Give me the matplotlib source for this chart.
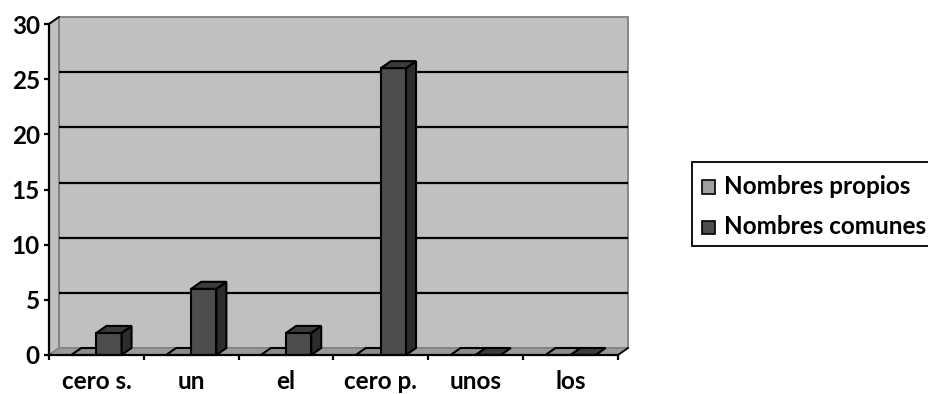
import matplotlib
matplotlib.use("Agg")
import matplotlib.pyplot as plt
from matplotlib.patches import Polygon, Rectangle

# --- data ---
categories = ["cero s.", "un", "el", "cero p.", "unos", "los"]
series_names = ["Nombres propios", "Nombres comunes"]
propios = [0, 0, 0, 0, 0, 0]
comunes = [2, 6, 2, 26, 0, 0]
y_ticks = [0, 5, 10, 15, 20, 25, 30]

# --- styling ---
FONT = ["Lato", "DejaVu Sans"]
FS = 17.5
wall_color = "#C0C0C0"
wall_edge = "#808080"
floor_color = "#9A9A9A"
series_colors = [
    {"face": "#A0A0A0", "side": "#7A7A7A", "top": "#8C8C8C"},
    {"face": "#4D4D4D", "side": "#2C2C2C", "top": "#3B3B3B"},
]
txt = dict(fontsize=FS, fontweight="bold", family=FONT)

W, H, DPI = 929, 394, 100
fig = plt.figure(figsize=(W / DPI, H / DPI), dpi=DPI)
fig.patch.set_facecolor("white")

# plot area in pixels (front plane)
left_px, right_px, bottom_px, top_px = 49, 618, 355, 24
ax = fig.add_axes([left_px / W, (H - bottom_px) / H,
                   (right_px - left_px) / W, (bottom_px - top_px) / H])
n = len(categories)
ymax = y_ticks[-1]
ax.set_xlim(0, n)
ax.set_ylim(0, ymax)
ax.set_facecolor("none")

# depth offset of the 3D effect, converted from pixels to data units
px_x = (right_px - left_px) / n
px_y = (bottom_px - top_px) / ymax
dx = 10 / px_x
dy = 7 / px_y

def poly(pts, fc, ec="black", lw=1.5, z=1):
    p = Polygon(pts, closed=True, facecolor=fc, edgecolor=ec, linewidth=lw,
                clip_on=False, zorder=z, joinstyle="miter")
    ax.add_patch(p)

# back wall, side wall, floor
poly([(dx, dy), (n + dx, dy), (n + dx, ymax + dy), (dx, ymax + dy)],
     wall_color, ec=wall_edge, lw=1.3, z=0.5)
poly([(0, 0), (dx, dy), (dx, ymax + dy), (0, ymax)],
     wall_color, ec=wall_edge, lw=1.3, z=0.6)
poly([(0, 0), (n, 0), (n + dx, dy), (dx, dy)],
     floor_color, ec=wall_edge, lw=1.0, z=0.7)

# gridlines on the back wall
for t in y_ticks[1:-1]:
    ax.plot([dx, n + dx], [t + dy, t + dy], color="black", lw=1.6,
            zorder=0.8, clip_on=False, solid_capstyle="butt")

# edges joining the front axes to the walls
ax.plot([0, dx], [ymax, ymax + dy], color="black", lw=1.3, clip_on=False, zorder=0.9)
ax.plot([n, n + dx], [0, dy], color="black", lw=1.3, clip_on=False, zorder=0.9)

# 3D bars
bar_w = 0.265
values = [propios, comunes]
for i in range(n):
    for s, vals in enumerate(values):
        v = vals[i]
        x0 = i + 0.5 - bar_w + s * bar_w
        x1 = x0 + bar_w
        c = series_colors[s]
        z = 2 + i * 0.1 + s * 0.01
        if v > 0:
            poly([(x0, 0), (x1, 0), (x1, v), (x0, v)], c["face"], z=z)
            poly([(x1, 0), (x1 + dx, dy), (x1 + dx, v + dy), (x1, v)], c["side"], z=z)
        poly([(x0, v), (x1, v), (x1 + dx, v + dy), (x0 + dx, v + dy)], c["top"], z=z)

# axes
for side in ("top", "right"):
    ax.spines[side].set_visible(False)
for side in ("left", "bottom"):
    ax.spines[side].set_linewidth(1.6)
    ax.spines[side].set_zorder(5)

ax.set_yticks(y_ticks)
ax.set_yticklabels([str(t) for t in y_ticks], **txt)
ax.set_xticks(range(n + 1))
ax.set_xticklabels([])
ax.set_xticks([i + 0.5 for i in range(n)], minor=True)
ax.set_xticklabels(categories, minor=True, **txt)
ax.tick_params(axis="y", direction="out", length=3.6, width=1.6, pad=3)
ax.tick_params(axis="x", which="major", direction="out", length=3.6, width=1.6)
ax.tick_params(axis="x", which="minor", length=0, pad=10.5)

# legend box
lx0, ly0, lx1, ly1 = 692, 162, 940, 246
fig.patches.append(Rectangle((lx0 / W, (H - ly1) / H), (lx1 - lx0) / W,
                             (ly1 - ly0) / H, transform=fig.transFigure,
                             facecolor="white", edgecolor="black", lw=1.3))
for k, (name, yc) in enumerate(zip(series_names, [187, 227])):
    sq = 13
    fig.patches.append(Rectangle((702 / W, (H - yc - sq / 2) / H), sq / W, sq / H,
                                 transform=fig.transFigure,
                                 facecolor=series_colors[k]["face"],
                                 edgecolor="black", lw=1.2))
    fig.text(724 / W, (H - yc) / H, name, va="center", ha="left", **txt)

fig.savefig("out.png", dpi=DPI)
